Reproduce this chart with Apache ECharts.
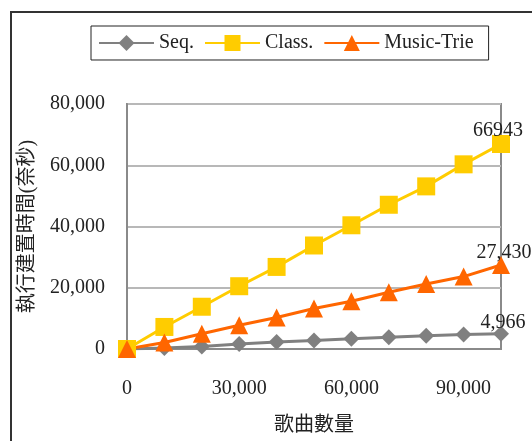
<!DOCTYPE html>
<html>
<head>
<meta charset="utf-8">
<script src="https://cdn.jsdelivr.net/npm/echarts@6/dist/echarts.min.js"></script>
<style>
html,body{margin:0;padding:0;background:#fff;}
#chart{width:532px;height:441px;}
</style>
</head>
<body>
<div id="chart"></div>
<script>
const songCounts = [0, 10000, 20000, 30000, 40000, 50000, 60000, 70000, 80000, 90000, 100000];
const seqValues = [0, 300, 850, 1600, 2300, 2800, 3350, 3850, 4300, 4700, 4966];
const classValues = [0, 7200, 13800, 20500, 26800, 33800, 40400, 47100, 53100, 60300, 66943];
const trieValues = [0, 2100, 5000, 7750, 10300, 13250, 15600, 18550, 21200, 23650, 27430];
const seriesNames = ['Seq.', 'Class.', 'Music-Trie'];
const endLabels = ['4,966', '66943', '27,430'];
const xTicks = [0, 30000, 60000, 90000];
const yTicks = [0, 20000, 40000, 60000, 80000];
const xAxisTitle = '歌曲數量';
const yAxisTitle = '執行建置時間(奈秒)';

const FONT = "'Liberation Serif', 'Noto Sans CJK TC', serif";
const fmt = v => v.toLocaleString('en-US');

function pairs(vals) { return vals.map((v, i) => [songCounts[i], v]); }

function makeSeries(name, vals, color, symbol, size, label, offset) {
  const data = pairs(vals).map((p, i) => {
    if (i === vals.length - 1) {
      return {
        value: p,
        label: {
          show: true, position: 'top', distance: 0, offset: offset,
          formatter: label, color: '#222', fontFamily: FONT, fontSize: 20
        }
      };
    }
    return { value: p };
  });
  return {
    name: name, type: 'line', data: data,
    symbol: symbol, symbolSize: size,
    lineStyle: { color: color, width: 3 },
    itemStyle: { color: color },
    label: { show: false },
    emphasis: { disabled: true }
  };
}

const chart = echarts.init(document.getElementById('chart'), null, { renderer: 'canvas' });
chart.setOption({
  animation: false,
  backgroundColor: '#fff',
  graphic: [{
    type: 'rect',
    shape: { x: 11, y: 12, width: 600, height: 500 },
    style: { fill: 'none', stroke: '#333', lineWidth: 2 },
    z: -1
  }],
  legend: {
    left: 91, top: 26,
    padding: [7, 15, 7, 7],
    borderColor: '#222', borderWidth: 1,
    itemWidth: 55, itemHeight: 20, itemGap: 10,
    textStyle: { fontFamily: FONT, fontSize: 20, color: '#222' },
    data: seriesNames
  },
  grid: {
    left: 127, right: 31, top: 104, bottom: 86,
    show: true, borderColor: '#8a8a8a', borderWidth: 2, containLabel: false
  },
  xAxis: {
    type: 'value', min: 0, max: 100000, interval: 30000,
    name: xAxisTitle, nameLocation: 'middle', nameGap: 67,
    nameTextStyle: { fontFamily: FONT, fontSize: 20, color: '#222' },
    axisLine: { show: true, lineStyle: { color: '#8a8a8a', width: 2 } },
    axisTick: { show: false },
    splitLine: { show: false },
    axisLabel: {
      showMaxLabel: false, margin: 30,
      fontFamily: FONT, fontSize: 20, color: '#222',
      formatter: v => xTicks.includes(v) ? fmt(v) : ''
    }
  },
  yAxis: {
    type: 'value', min: 0, max: 80000, interval: 20000,
    name: yAxisTitle, nameLocation: 'middle', nameGap: 89, nameRotate: 90,
    nameTextStyle: { fontFamily: FONT, fontSize: 20, color: '#222' },
    axisLine: { show: true, lineStyle: { color: '#8a8a8a', width: 2 } },
    axisTick: { show: false },
    splitLine: { show: true, lineStyle: { color: '#b8b8b8', width: 2 } },
    axisLabel: {
      margin: 22, fontFamily: FONT, fontSize: 20, color: '#222',
      formatter: v => yTicks.includes(v) ? fmt(v) : ''
    }
  },
  series: [
    makeSeries(seriesNames[0], seqValues, '#808080', 'diamond', 16, endLabels[0], [2, 7]),
    makeSeries(seriesNames[1], classValues, '#FFCC00', 'rect', 18, endLabels[1], [-3, 6]),
    makeSeries(seriesNames[2], trieValues, '#FF6600', 'triangle', 18, endLabels[2], [3, 7])
  ]
});
</script>
</body>
</html>
